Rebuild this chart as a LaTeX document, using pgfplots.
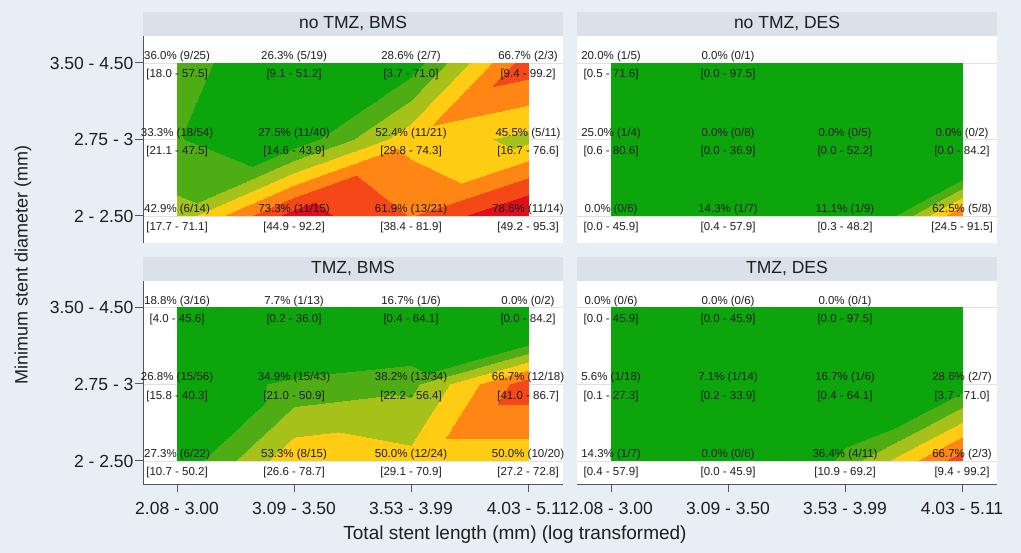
\documentclass[border=0pt]{standalone}
\usepackage{fontspec}
\setmainfont{Liberation Sans}
\usepackage{pgfplots}
\pgfplotsset{compat=1.18}
\definecolor{bg}{HTML}{E8EFF4}
\definecolor{strip}{HTML}{D9E2EA}
\definecolor{axc}{HTML}{55555F}
\definecolor{txt}{HTML}{1E1E1E}
\newcommand{\fs}[1]{\fontsize{#1bp}{#1bp}\selectfont}
\newcommand{\lab}[4]{%
  \node[lblA] at (axis cs:#1,#2) {#3};
  \node[lblB] at (axis cs:#1,#2) {#4};}
\tikzset{
  lblA/.style={anchor=base, yshift=3bp, inner sep=0pt, font=\fs{11.5}, text=txt},
  lblB/.style={anchor=base, yshift=-15bp, inner sep=0pt, font=\fs{11.5}, text=txt},
}
\pgfplotsset{
  panel/.style={
    scale only axis, width=420bp,
    xmin=-0.291, xmax=3.299,
    xtick={0,1,2,3}, ytick={0,1,2},
    axis background/.style={fill=white},
    ymajorgrids, major grid style={draw=black!12, line width=0.6bp},
    axis lines*=left,
    axis line style={draw=axc, line width=1bp},
    tick style={draw=axc, line width=1bp},
    tick align=outside, major tick length=8bp,
    clip=false,
    point meta min=0, point meta max=100,
    colormap={stata}{rgb255(0pt)=(12,166,12) rgb255(33pt)=(78,172,20) rgb255(40.3pt)=(166,194,26) rgb255(47.6pt)=(255,204,20) rgb255(54.9pt)=(255,133,20) rgb255(62.2pt)=(244,72,24) rgb255(69.5pt)=(222,16,28) rgb255(100pt)=(222,16,28)},
    colormap access=piecewise constant,
    every axis title shift=0pt,
    title style={at={(0.5,1)}, anchor=south, yshift=0pt, fill=strip, minimum width=420bp, minimum height=24bp, inner sep=0pt, font=\fs{17.5}, text=txt},
    ticklabel style={font=\fs{17.5}, text=txt},
    xticklabels={2.08 - 3.00, 3.09 - 3.50, 3.53 - 3.99, 4.03 - 5.11},
    yticklabels={2 - 2.50, 2.75 - 3, 3.50 - 4.50},
    xticklabel style={yshift=-7bp},
    yticklabel style={xshift=2bp},
  },
  toprow/.style={height=207bp, ymin=-0.353, ymax=2.353, hide x axis},
  botrow/.style={height=203bp, ymin=-0.299, ymax=2.338},
  rightcol/.style={yticklabels={}, y axis line style={draw=none}, ytick style={draw=none}},
  cplot/.style={surf, shader=interp, mesh/cols=4, point meta=explicit},
}
\begin{document}
\begin{tikzpicture}
\path[use as bounding box, fill=bg] (0,0) rectangle (1021bp,553bp);

% ---------------- no TMZ, BMS
\begin{axis}[panel, toprow, at={(143bp,310bp)}, anchor=south west, title={no TMZ, BMS}]
\addplot[cplot] table[meta=z] {
x y z
0 2 36.0
1 2 26.3
2 2 28.6
3 2 66.7
0 1 33.3
1 1 27.5
2 1 52.4
3 1 45.5
0 0 42.9
1 0 73.3
2 0 61.9
3 0 78.6
};
\lab{0}{2}{36.0\% (9/25)}{[18.0 - 57.5]}
\lab{1}{2}{26.3\% (5/19)}{[9.1 - 51.2]}
\lab{2}{2}{28.6\% (2/7)}{[3.7 - 71.0]}
\lab{3}{2}{66.7\% (2/3)}{[9.4 - 99.2]}
\lab{0}{1}{33.3\% (18/54)}{[21.1 - 47.5]}
\lab{1}{1}{27.5\% (11/40)}{[14.6 - 43.9]}
\lab{2}{1}{52.4\% (11/21)}{[29.8 - 74.3]}
\lab{3}{1}{45.5\% (5/11)}{[16.7 - 76.6]}
\lab{0}{0}{42.9\% (6/14)}{[17.7 - 71.1]}
\lab{1}{0}{73.3\% (11/15)}{[44.9 - 92.2]}
\lab{2}{0}{61.9\% (13/21)}{[38.4 - 81.9]}
\lab{3}{0}{78.6\% (11/14)}{[49.2 - 95.3]}
\end{axis}

% ---------------- no TMZ, DES
\begin{axis}[panel, toprow, rightcol, at={(577bp,310bp)}, anchor=south west, title={no TMZ, DES}]
\addplot[cplot] table[meta=z] {
x y z
0 2 20.0
1 2 0.0
2 2 0.0
3 2 0.0
0 1 25.0
1 1 0.0
2 1 0.0
3 1 0.0
0 0 0.0
1 0 14.3
2 0 11.1
3 0 62.5
};
\lab{0}{2}{20.0\% (1/5)}{[0.5 - 71.6]}
\lab{1}{2}{0.0\% (0/1)}{[0.0 - 97.5]}
\lab{0}{1}{25.0\% (1/4)}{[0.6 - 80.6]}
\lab{1}{1}{0.0\% (0/8)}{[0.0 - 36.9]}
\lab{2}{1}{0.0\% (0/5)}{[0.0 - 52.2]}
\lab{3}{1}{0.0\% (0/2)}{[0.0 - 84.2]}
\lab{0}{0}{0.0\% (0/6)}{[0.0 - 45.9]}
\lab{1}{0}{14.3\% (1/7)}{[0.4 - 57.9]}
\lab{2}{0}{11.1\% (1/9)}{[0.3 - 48.2]}
\lab{3}{0}{62.5\% (5/8)}{[24.5 - 91.5]}
\end{axis}

% ---------------- TMZ, BMS
\begin{axis}[panel, botrow, at={(143bp,69bp)}, anchor=south west, title={TMZ, BMS}]
\addplot[cplot] table[meta=z] {
x y z
0 2 18.8
1 2 7.7
2 2 16.7
3 2 0.0
0 1 26.8
1 1 34.9
2 1 38.2
3 1 66.7
0 0 27.3
1 0 53.3
2 0 50.0
3 0 50.0
};
\lab{0}{2}{18.8\% (3/16)}{[4.0 - 45.6]}
\lab{1}{2}{7.7\% (1/13)}{[0.2 - 36.0]}
\lab{2}{2}{16.7\% (1/6)}{[0.4 - 64.1]}
\lab{3}{2}{0.0\% (0/2)}{[0.0 - 84.2]}
\lab{0}{1}{26.8\% (15/56)}{[15.8 - 40.3]}
\lab{1}{1}{34.9\% (15/43)}{[21.0 - 50.9]}
\lab{2}{1}{38.2\% (13/34)}{[22.2 - 56.4]}
\lab{3}{1}{66.7\% (12/18)}{[41.0 - 86.7]}
\lab{0}{0}{27.3\% (6/22)}{[10.7 - 50.2]}
\lab{1}{0}{53.3\% (8/15)}{[26.6 - 78.7]}
\lab{2}{0}{50.0\% (12/24)}{[29.1 - 70.9]}
\lab{3}{0}{50.0\% (10/20)}{[27.2 - 72.8]}
\end{axis}

% ---------------- TMZ, DES
\begin{axis}[panel, botrow, rightcol, at={(577bp,69bp)}, anchor=south west, title={TMZ, DES}]
\addplot[cplot] table[meta=z] {
x y z
0 2 0.0
1 2 0.0
2 2 0.0
3 2 0.0
0 1 5.6
1 1 7.1
2 1 16.7
3 1 28.6
0 0 14.3
1 0 0.0
2 0 36.4
3 0 66.7
};
\lab{0}{2}{0.0\% (0/6)}{[0.0 - 45.9]}
\lab{1}{2}{0.0\% (0/6)}{[0.0 - 45.9]}
\lab{2}{2}{0.0\% (0/1)}{[0.0 - 97.5]}
\lab{0}{1}{5.6\% (1/18)}{[0.1 - 27.3]}
\lab{1}{1}{7.1\% (1/14)}{[0.2 - 33.9]}
\lab{2}{1}{16.7\% (1/6)}{[0.4 - 64.1]}
\lab{3}{1}{28.6\% (2/7)}{[3.7 - 71.0]}
\lab{0}{0}{14.3\% (1/7)}{[0.4 - 57.9]}
\lab{1}{0}{0.0\% (0/6)}{[0.0 - 45.9]}
\lab{2}{0}{36.4\% (4/11)}{[10.9 - 69.2]}
\lab{3}{0}{66.7\% (2/3)}{[9.4 - 99.2]}
\end{axis}

\node[rotate=90, font=\fs{18}, text=txt] at (23bp,288bp) {Minimum stent diameter (mm)};
\node[font=\fs{19}, text=txt] at (515bp,18bp) {Total stent length (mm) (log transformed)};
\end{tikzpicture}
\end{document}
